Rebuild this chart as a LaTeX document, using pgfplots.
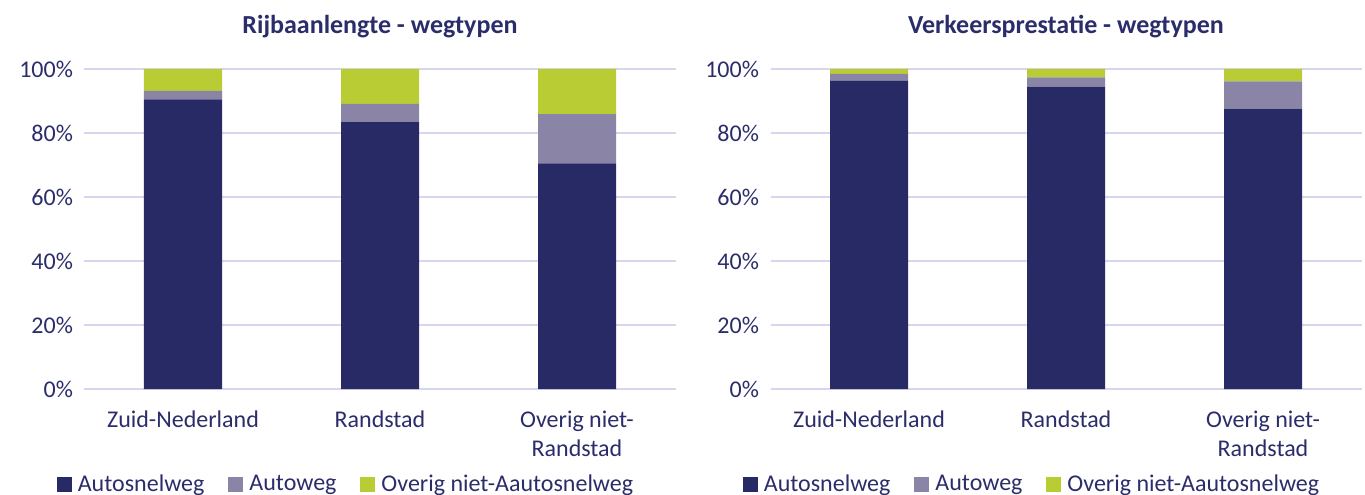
\documentclass[border=0pt]{standalone}
\usepackage{fontspec}
\setmainfont{Carlito}
\usepackage{pgfplots}
\pgfplotsset{compat=1.18}
\definecolor{navy}{HTML}{282A66}
\definecolor{lila}{HTML}{8A84A6}
\definecolor{lime}{HTML}{B9CC33}
\definecolor{gridc}{HTML}{D6D6EE}
\definecolor{txt}{HTML}{2B2D6B}

\pgfplotstableread{
x a b c
0 90.5 2.7 6.8
1 83.4 5.7 10.9
2 70.5 15.4 14.1
}\lengte
\pgfplotstableread{
x a b c
0 96.3 2.2 1.5
1 94.5 2.9 2.6
2 87.6 8.5 3.9
}\prestatie

\pgfplotsset{
  wegstyle/.style={
    scale only axis, width=591pt, height=320pt,
    ybar stacked, bar width=78pt,
    xmin=-0.5, xmax=2.5, ymin=0, ymax=100,
    xtick=data,
    xticklabels={Zuid-Nederland,Randstad,{Overig niet-\\Randstad}},
    ytick={0,20,40,60,80,100},
    yticklabel={\pgfmathprintnumber{\tick}\%},
    /pgf/number format/assume math mode=true,
    axis line style={draw=none},
    major tick style={draw=none},
    ymajorgrids, grid style={gridc, line width=1.2pt},
    tick label style={font=\fontsize{24}{29}\selectfont, text=txt},
    xticklabel style={align=center, yshift=-18pt},
    yticklabel style={xshift=-8pt},
    title style={font=\fontsize{26}{30}\selectfont\bfseries, text=txt, yshift=22pt},
    legend columns=3,
    legend style={draw=none, fill=none, at={(0.4425,-0.297)}, anchor=center,
      font=\fontsize{24}{29}\selectfont, text=txt,
      /tikz/every even column/.append style={column sep=22pt}},
    legend image code/.code={\fill[##1] (0pt,-8pt) rectangle (15pt,7pt); \path (19pt,0pt);},
  }
}

\begin{document}
\begin{tikzpicture}
\useasboundingbox (-84.5pt,-106pt) rectangle (1280.5pt,389pt);
\begin{axis}[wegstyle, at={(0pt,0pt)}, anchor=south west, title={Rijbaanlengte - wegtypen}]
\addplot[fill=navy, draw=none] table[x=x,y=a]{\lengte};
\addplot[fill=lila, draw=none] table[x=x,y=b]{\lengte};
\addplot[fill=lime, draw=none] table[x=x,y=c]{\lengte};
\legend{Autosnelweg,Autoweg,Overig niet-Aautosnelweg}
\end{axis}
\begin{axis}[wegstyle, at={(686pt,0pt)}, anchor=south west, title={Verkeersprestatie - wegtypen}]
\addplot[fill=navy, draw=none] table[x=x,y=a]{\prestatie};
\addplot[fill=lila, draw=none] table[x=x,y=b]{\prestatie};
\addplot[fill=lime, draw=none] table[x=x,y=c]{\prestatie};
\legend{Autosnelweg,Autoweg,Overig niet-Aautosnelweg}
\end{axis}
\end{tikzpicture}
\end{document}
